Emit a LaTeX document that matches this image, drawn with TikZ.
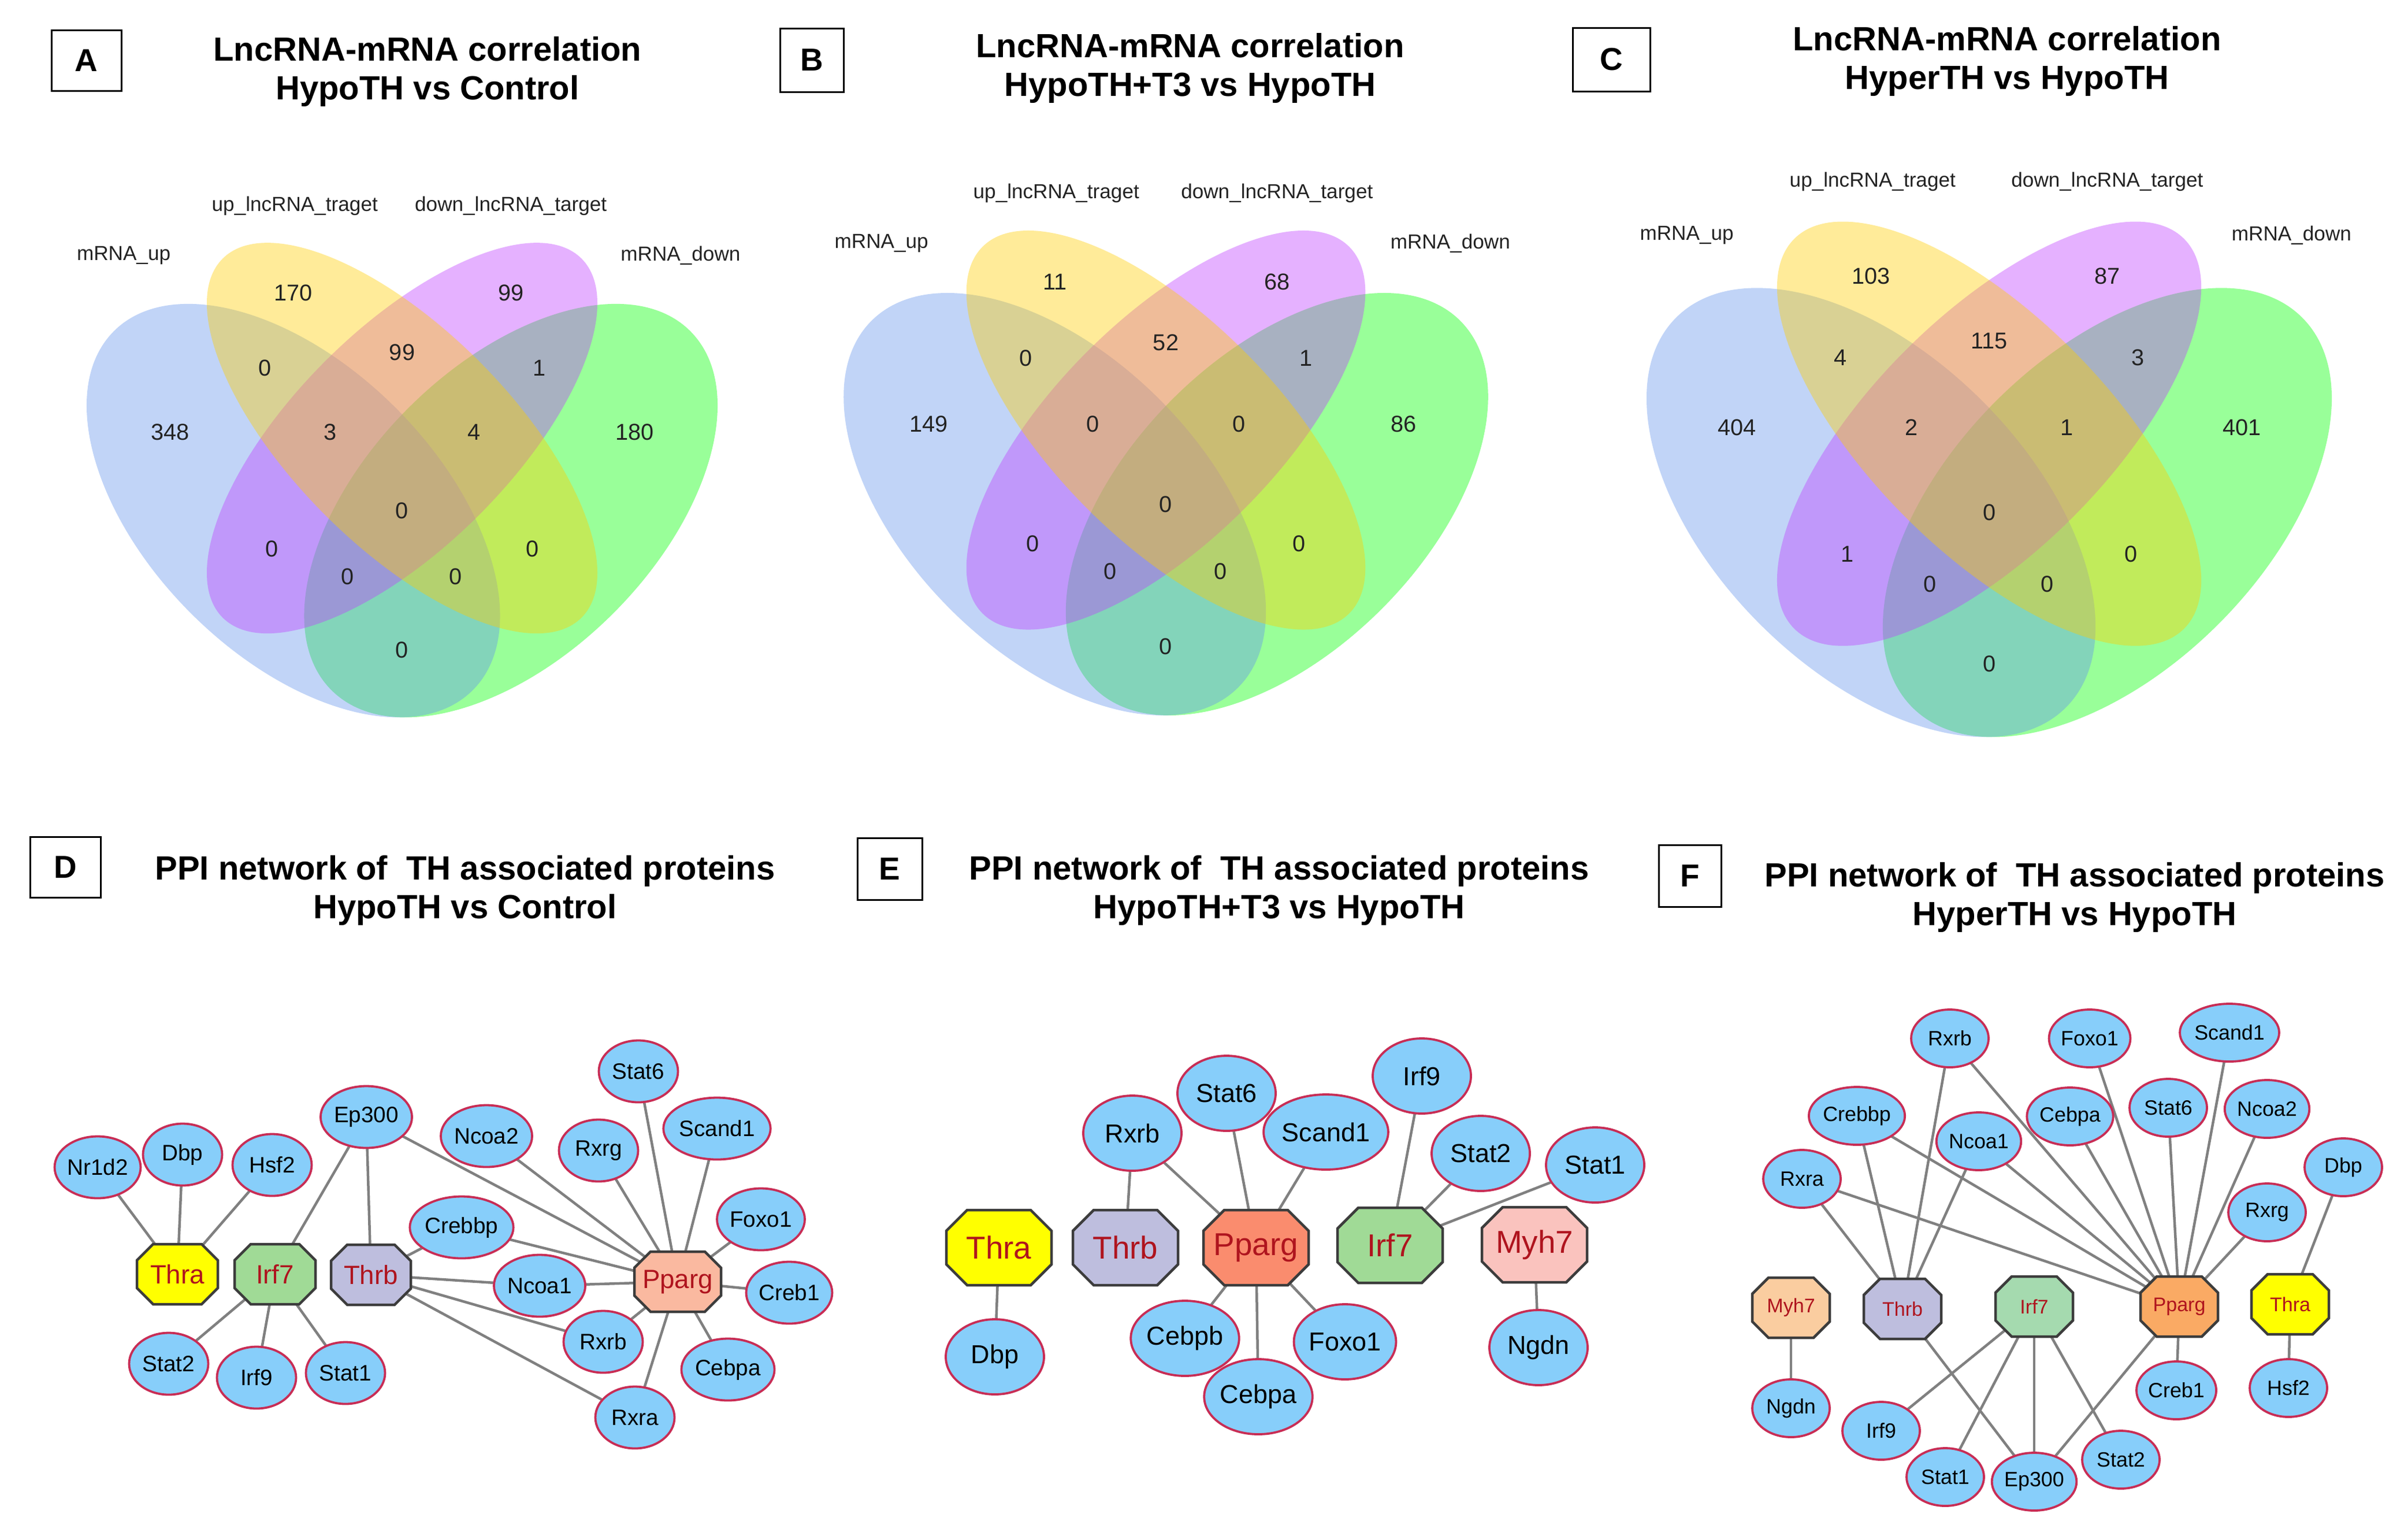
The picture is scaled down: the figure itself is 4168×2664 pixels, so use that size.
\documentclass[tikz,border=0pt]{standalone}
\usepackage{fontspec}
\setmainfont{Liberation Sans}
\usetikzlibrary{shapes.geometric,backgrounds}
\definecolor{ellfill}{RGB}{135,206,250}
\definecolor{ellborder}{RGB}{200,45,85}
\definecolor{edgegray}{RGB}{128,128,128}
\definecolor{octborder}{RGB}{60,60,60}
\definecolor{octred}{RGB}{175,20,30}
\definecolor{thracol}{RGB}{255,255,0}
\definecolor{thrbcol}{RGB}{190,190,222}
\definecolor{irfcol}{RGB}{160,218,150}
\definecolor{irfF}{RGB}{165,218,175}
\definecolor{ppargD}{RGB}{250,185,160}
\definecolor{ppargE}{RGB}{250,140,110}
\definecolor{ppargF}{RGB}{250,170,100}
\definecolor{myhE}{RGB}{250,195,190}
\definecolor{myhF}{RGB}{250,205,160}
\definecolor{vblue}{RGB}{100,149,237}
\definecolor{vyellow}{RGB}{255,205,0}
\definecolor{vpurple}{RGB}{191,62,255}
\definecolor{vgreen}{RGB}{0,255,0}
\definecolor{vtext}{RGB}{35,35,35}

\tikzset{
  edge/.style={draw=edgegray, line width=0.45mm},
  ell/.style={ellipse, draw=ellborder, fill=ellfill, line width=0.38mm, inner sep=0pt},
  dell/.style={ell, minimum width=13.7mm, minimum height=10.7mm, font=\fontsize{11}{13}\selectfont},
  eell/.style={ell, minimum width=17mm, minimum height=13mm, font=\fontsize{12.8}{15}\selectfont},
  fell/.style={ell, minimum width=13.4mm, minimum height=10mm, font=\fontsize{10.2}{12}\selectfont},
  octline/.style={draw=octborder, line width=0.45mm},
  octtext/.style={text=octred, inner sep=0pt},
  octD/.style={font=\fontsize{13}{15}\selectfont},
  octE/.style={font=\fontsize{15.6}{18}\selectfont},
  octF/.style={font=\fontsize{9.7}{11}\selectfont},
  pbox/.style={draw=black, line width=0.3mm, inner sep=0pt, font=\fontsize{15.6}{18}\selectfont\bfseries},
  ptitle/.style={align=center, inner sep=0pt, font=\fontsize{16.5}{19.3}\selectfont\bfseries},
  vlab/.style={inner sep=0pt, text=vtext, font=\fontsize{10}{12}\selectfont},
  vnum/.style={inner sep=0pt, text=vtext, font=\fontsize{11.3}{13}\selectfont},
}

\newcommand\oct[8]{%
  \filldraw[octline, fill=#6, shift={(#2)}] (-#3+#5,-#4) -- (#3-#5,-#4) -- (#3,-#4+#5) -- (#3,#4-#5) -- (#3-#5,#4) -- (-#3+#5,#4) -- (-#3,#4-#5) -- (-#3,-#4+#5) -- cycle;
  \node[octtext, #7] (#1) at (#2) {#8};}

\newcommand\vennshapes{%
  \fill[vgreen, fill opacity=0.4, shift={(0.15,-0.03)}, rotate=45] (0,0) ellipse [x radius=0.35, y radius=0.2];
  \fill[vblue, fill opacity=0.4, shift={(-0.15,-0.03)}, rotate=-45] (0,0) ellipse [x radius=0.35, y radius=0.2];
  \fill[vpurple, fill opacity=0.4, shift={(0,0.07)}, rotate=45] (0,0) ellipse [x radius=0.35, y radius=0.15];
  \fill[vyellow, fill opacity=0.4, shift={(0,0.07)}, rotate=-45] (0,0) ellipse [x radius=0.35, y radius=0.15];}

\def\vxs{{-0.150,0.150,-0.189,0,0.189,-0.320,-0.099,0.099,0.321,0,-0.180,0.180,-0.075,0.074,0}}
\def\vys{{0.270,0.270,0.167,0.188,0.167,0.078,0.078,0.078,0.078,-0.030,-0.083,-0.083,-0.121,-0.121,-0.222}}
\newcommand\vennnums[2]{%
  \foreach \t [count=\i from 0] in {#2}{%
    \pgfmathsetmacro\px{\vxs[\i]}\pgfmathsetmacro\py{\vys[\i]}%
    \node[vnum] (#1n\i) at (\px,\py) {\t};}}
\newcommand\vennlabels[1]{%
  \node[vlab] (#1up) at (-0.148,0.390) {up\_lncRNA\_traget};
  \node[vlab] (#1down) at (0.150,0.390) {down\_lncRNA\_target};
  \node[vlab] (#1mup) at (-0.384,0.322) {mRNA\_up};
  \node[vlab] (#1mdown) at (0.384,0.322) {mRNA\_down};}

\begin{document}
\begin{tikzpicture}[x=0.1mm,y=-0.1mm]
\useasboundingbox (0,0) rectangle (4168,2664);
\begin{pgfonlayer}{background}
  \fill[white] (0,0) rectangle (4168,2664);
\end{pgfonlayer}

% ---------------- Panel letters and titles
\node[pbox, minimum width=12.1mm, minimum height=10.5mm] (boxA) at (149.5,105) {A};
\node[pbox, minimum width=11mm, minimum height=11mm] (boxB) at (1405,104) {B};
\node[pbox, minimum width=13.4mm, minimum height=11mm] (boxC) at (2789,103) {C};
\node[pbox, minimum width=12.2mm, minimum height=10.5mm] (boxD) at (113,1501) {D};
\node[pbox, minimum width=11.2mm, minimum height=10.7mm] (boxE) at (1540,1504) {E};
\node[pbox, minimum width=10.8mm, minimum height=10.7mm] (boxF) at (2925,1516) {F};

\node[ptitle] (tA) at (740,124) {LncRNA-mRNA correlation\\HypoTH vs Control};
\node[ptitle] (tB) at (2060,118) {LncRNA-mRNA correlation\\HypoTH+T3 vs HypoTH};
\node[ptitle] (tC) at (3474,106) {LncRNA-mRNA correlation\\HyperTH vs HypoTH};
\node[ptitle] (tD) at (805,1541) {PPI network of\ \ TH associated proteins\\HypoTH vs Control};
\node[ptitle] (tE) at (2214,1541) {PPI network of\ \ TH associated proteins\\HypoTH+T3 vs HypoTH};
\node[ptitle] (tF) at (3591,1553) {PPI network of\ \ TH associated proteins\\HyperTH vs HypoTH};

% ---------------- Venn A
\begin{scope}[shift={(696,846)}, x=125.5mm, y=125.5mm]
  \vennshapes
  \vennlabels{A-}
  \vennnums{A-}{170,99,0,99,1,348,3,4,180,0,0,0,0,0,0}
\end{scope}
% ---------------- Venn B
\begin{scope}[shift={(2018,834)}, x=128.2mm, y=128.2mm]
  \vennshapes
  \vennlabels{B-}
  \vennnums{B-}{11,68,0,52,1,149,0,0,86,0,0,0,0,0,0}
\end{scope}
% ---------------- Venn C
\begin{scope}[shift={(3443,846)}, x=136.3mm, y=136.3mm]
  \vennshapes
  \vennlabels{C-}
  \vennnums{C-}{103,87,4,115,3,404,2,1,401,0,1,0,0,0,0}
\end{scope}

% ---------------- Network D
\oct{D-Thra}{307,2205}{70}{52}{28}{thracol}{octD}{Thra}
\oct{D-Irf7}{476,2205}{70}{52}{28}{irfcol}{octD}{Irf7}
\oct{D-Thrb}{642,2206}{69}{52}{28}{thrbcol}{octD}{Thrb}
\oct{D-Pparg}{1173,2218}{75}{52}{28}{ppargD}{octD}{Pparg}
\node[dell] (D-Nr1d2) at (169,2020) {Nr1d2};
\node[dell] (D-Dbp) at (316,1998) {Dbp};
\node[dell] (D-Hsf2) at (471,2016) {Hsf2};
\node[dell] (D-Ep300) at (634,1933) {Ep300};
\node[dell] (D-Ncoa2) at (842,1966) {Ncoa2};
\node[dell] (D-Rxrg) at (1036,1991) {Rxrg};
\node[dell] (D-Stat6) at (1105,1854) {Stat6};
\node[dell] (D-Scand1) at (1241,1953) {Scand1};
\node[dell] (D-Foxo1) at (1317,2110) {Foxo1};
\node[dell] (D-Creb1) at (1366,2237) {Creb1};
\node[dell] (D-Cebpa) at (1260,2370) {Cebpa};
\node[dell] (D-Rxra) at (1099,2453) {Rxra};
\node[dell] (D-Rxrb) at (1044,2322) {Rxrb};
\node[dell] (D-Ncoa1) at (934,2225) {Ncoa1};
\node[dell] (D-Crebbp) at (799,2124) {Crebbp};
\node[dell] (D-Stat2) at (292,2360) {Stat2};
\node[dell] (D-Irf9) at (444,2384) {Irf9};
\node[dell] (D-Stat1) at (598,2376) {Stat1};

% ---------------- Network E
\oct{E-Thra}{1729,2159}{91}{65}{36}{thracol}{octE}{Thra}
\oct{E-Thrb}{1948,2159}{91}{65}{36}{thrbcol}{octE}{Thrb}
\oct{E-Pparg}{2174,2159}{91}{65}{36}{ppargE}{octE}{Pparg}
\oct{E-Irf7}{2406,2155}{91}{65}{36}{irfcol}{octE}{Irf7}
\oct{E-Myh7}{2656,2154}{91}{65}{36}{myhE}{octE}{Myh7}
\node[eell] (E-Dbp) at (1722,2348) {Dbp};
\node[eell] (E-Rxrb) at (1960,1961) {Rxrb};
\node[eell] (E-Stat6) at (2123,1892) {Stat6};
\node[eell] (E-Scand1) at (2295,1959) {Scand1};
\node[eell] (E-Irf9) at (2461,1862) {Irf9};
\node[eell] (E-Stat2) at (2563,1996) {Stat2};
\node[eell] (E-Stat1) at (2761,2016) {Stat1};
\node[eell] (E-Cebpb) at (2051,2316) {Cebpb};
\node[eell] (E-Cebpa) at (2178,2417) {Cebpa};
\node[eell] (E-Foxo1) at (2328,2322) {Foxo1};
\node[eell] (E-Ngdn) at (2663,2332) {Ngdn};

% ---------------- Network F
\oct{F-Myh7}{3100,2263}{67}{52}{28}{myhF}{octF}{Myh7}
\oct{F-Thrb}{3293,2265}{67}{52}{28}{thrbcol}{octF}{Thrb}
\oct{F-Irf7}{3521,2261}{67}{52}{28}{irfF}{octF}{Irf7}
\oct{F-Pparg}{3772,2261}{67}{52}{28}{ppargF}{octF}{Pparg}
\oct{F-Thra}{3964,2257}{67}{52}{28}{thracol}{octF}{Thra}
\node[fell] (F-Rxrb) at (3375,1797) {Rxrb};
\node[fell] (F-Foxo1) at (3617,1797) {Foxo1};
\node[fell] (F-Scand1) at (3859,1787) {Scand1};
\node[fell] (F-Crebbp) at (3214,1931) {Crebbp};
\node[fell] (F-Ncoa1) at (3425,1975) {Ncoa1};
\node[fell] (F-Cebpa) at (3583,1932) {Cebpa};
\node[fell] (F-Stat6) at (3753,1917) {Stat6};
\node[fell] (F-Ncoa2) at (3924,1919) {Ncoa2};
\node[fell] (F-Rxra) at (3119,2040) {Rxra};
\node[fell] (F-Dbp) at (4056,2020) {Dbp};
\node[fell] (F-Rxrg) at (3924,2098) {Rxrg};
\node[fell] (F-Ngdn) at (3100,2437) {Ngdn};
\node[fell] (F-Irf9) at (3256,2476) {Irf9};
\node[fell] (F-Stat1) at (3367,2556) {Stat1};
\node[fell] (F-Ep300) at (3521,2564) {Ep300};
\node[fell] (F-Stat2) at (3671,2526) {Stat2};
\node[fell] (F-Creb1) at (3767,2406) {Creb1};
\node[fell] (F-Hsf2) at (3961,2402) {Hsf2};

% ---------------- Edges (behind nodes)
\begin{pgfonlayer}{background}
  \foreach \a/\b in {Thra/Nr1d2, Thra/Dbp, Thra/Hsf2, Irf7/Ep300, Irf7/Stat2, Irf7/Irf9, Irf7/Stat1,
    Thrb/Ep300, Thrb/Crebbp, Thrb/Ncoa1, Thrb/Rxrb, Thrb/Rxra,
    Pparg/Ep300, Pparg/Ncoa2, Pparg/Rxrg, Pparg/Stat6, Pparg/Scand1, Pparg/Foxo1, Pparg/Creb1,
    Pparg/Cebpa, Pparg/Rxra, Pparg/Rxrb, Pparg/Ncoa1, Pparg/Crebbp}
    \draw[edge] (D-\a.center) -- (D-\b.center);
  \foreach \a/\b in {Thra/Dbp, Thrb/Rxrb, Pparg/Rxrb, Pparg/Stat6, Pparg/Scand1, Pparg/Cebpb,
    Pparg/Cebpa, Pparg/Foxo1, Irf7/Irf9, Irf7/Stat2, Irf7/Stat1, Myh7/Ngdn}
    \draw[edge] (E-\a.center) -- (E-\b.center);
  \foreach \a/\b in {Thrb/Rxra, Thrb/Crebbp, Thrb/Rxrb, Thrb/Ncoa1, Thrb/Ep300,
    Pparg/Rxra, Pparg/Crebbp, Pparg/Rxrb, Pparg/Ncoa1, Pparg/Cebpa, Pparg/Foxo1, Pparg/Stat6,
    Pparg/Scand1, Pparg/Ncoa2, Pparg/Rxrg, Pparg/Creb1, Pparg/Ep300,
    Irf7/Irf9, Irf7/Stat1, Irf7/Ep300, Irf7/Stat2, Myh7/Ngdn, Thra/Dbp, Thra/Hsf2}
    \draw[edge] (F-\a.center) -- (F-\b.center);
\end{pgfonlayer}
\end{tikzpicture}
\end{document}
